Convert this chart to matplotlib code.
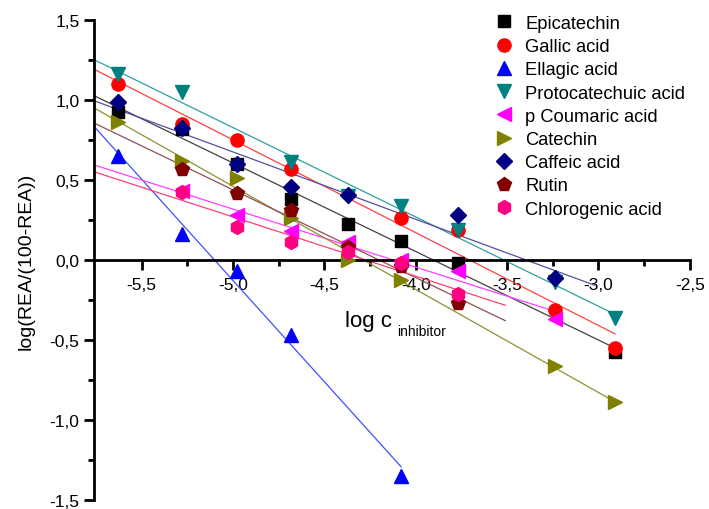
import matplotlib.pyplot as plt
import numpy as np

plt.rcParams['font.family'] = ['Liberation Sans', 'DejaVu Sans']

names = ['Epicatechin', 'Gallic acid', 'Ellagic acid', 'Protocatechuic acid',
         'p Coumaric acid', 'Catechin', 'Caffeic acid', 'Rutin', 'Chlorogenic acid']

epi_x = [-5.63, -5.28, -4.98, -4.68, -4.37, -4.08, -3.77, -2.91]
epi_y = [0.925, 0.82, 0.60, 0.38, 0.225, 0.12, -0.02, -0.575]

gal_x = [-5.63, -5.28, -4.98, -4.68, -4.08, -3.77, -3.24, -2.91]
gal_y = [1.10, 0.85, 0.75, 0.57, 0.26, 0.19, -0.31, -0.55]

ell_x = [-5.63, -5.28, -4.98, -4.68, -4.08]
ell_y = [0.65, 0.16, -0.07, -0.47, -1.35]

pro_x = [-5.63, -5.28, -4.68, -4.37, -4.08, -3.77, -3.24, -2.91]
pro_y = [1.16, 1.05, 0.61, 0.40, 0.34, 0.19, -0.14, -0.36]

cou_x = [-5.28, -4.98, -4.68, -4.37, -4.08, -3.77, -3.24]
cou_y = [0.43, 0.28, 0.18, 0.11, 0.0, -0.07, -0.37]

cat_x = [-5.63, -5.28, -4.98, -4.68, -4.37, -4.08, -3.24, -2.91]
cat_y = [0.86, 0.62, 0.51, 0.26, 0.0, -0.125, -0.66, -0.89]

caf_x = [-5.63, -5.28, -4.98, -4.68, -4.37, -3.77, -3.24]
caf_y = [0.99, 0.825, 0.60, 0.455, 0.405, 0.28, -0.11]

rut_x = [-5.28, -4.98, -4.68, -4.37, -4.08, -3.77]
rut_y = [0.57, 0.42, 0.31, 0.08, -0.035, -0.27]

chl_x = [-5.28, -4.98, -4.68, -4.37, -4.08, -3.77]
chl_y = [0.425, 0.205, 0.115, 0.05, -0.02, -0.21]

# where each fitted line stops
fit_end = [-2.91, -2.91, -4.08, -2.91, -3.24, -2.91, -3.02, -3.51, -3.51]

series_x = [epi_x, gal_x, ell_x, pro_x, cou_x, cat_x, caf_x, rut_x, chl_x]
series_y = [epi_y, gal_y, ell_y, pro_y, cou_y, cat_y, caf_y, rut_y, chl_y]

markers = ['s', 'o', '^', 'v', '<', '>', 'D', 'p', 'h']
msizes = [8.5, 9.5, 9.5, 9.5, 9.5, 9.5, 8, 10, 10]
colors = ['#000000', '#FF0000', '#0000FF', '#008080', '#FF00FF',
          '#808000', '#000080', '#800000', '#FF0080']
line_colors = ['#404040', '#FF4040', '#4050FF', '#30A0A0', '#FF40FF',
               '#909030', '#5050A0', '#905050', '#FF4070']

xmin, xmax = -5.76, -2.5

fig = plt.figure(figsize=(7.09, 5.10), dpi=100)
ax = fig.add_axes([0.1326, 0.0176, 0.8404, 0.9412])

for i in range(len(names)):
    k, b = np.polyfit(series_x[i], series_y[i], 1)
    xx = np.array([xmin, fit_end[i]])
    ax.plot(xx, k * xx + b, color=line_colors[i], lw=0.9, zorder=2)

for i in range(len(names)):
    ax.plot(series_x[i], series_y[i], linestyle='none', marker=markers[i],
            ms=msizes[i], color=colors[i], mec=colors[i], label=names[i], zorder=3)

ax.set_xlim(xmin, xmax)
ax.set_ylim(-1.5, 1.5)

ax.spines['top'].set_visible(False)
ax.spines['right'].set_visible(False)
ax.spines['bottom'].set_position(('data', 0))
ax.spines['left'].set_linewidth(2)
ax.spines['bottom'].set_linewidth(2)

ax.set_xticks([-5.5, -5.0, -4.5, -4.0, -3.5, -3.0, -2.5])
ax.set_xticks([-5.25, -4.75, -4.25, -3.75, -3.25, -2.75], minor=True)
ax.set_yticks([-1.5, -1.0, -0.5, 0.0, 0.5, 1.0, 1.5])
ax.set_yticks([-1.25, -0.75, -0.25, 0.25, 0.75, 1.25], minor=True)

fmt = lambda v: ('%.1f' % v).replace('.', ',')
ax.set_xticklabels([fmt(v) for v in ax.get_xticks()])
ax.set_yticklabels([fmt(v) for v in ax.get_yticks()])

ax.tick_params(which='major', direction='out', length=7, width=2, labelsize=12.5)
ax.tick_params(which='minor', direction='out', length=4, width=2)
ax.tick_params(axis='x', which='major', pad=5)

ax.set_ylabel('log(REA/(100-REA))', fontsize=14)
ax.yaxis.set_label_coords(-0.1, 0.5)

ax.text(-4.385, -0.41, 'log c', fontsize=16, ha='left', va='baseline')
ax.text(-4.10, -0.47, 'inhibitor', fontsize=10, ha='left', va='baseline')

ax.legend(loc='upper left', bbox_to_anchor=(0.658, 1.026), frameon=False,
          fontsize=13.2, handletextpad=0.55, labelspacing=0.34, handlelength=1.2,
          borderaxespad=0)

fig.savefig('out.png', dpi=100)
